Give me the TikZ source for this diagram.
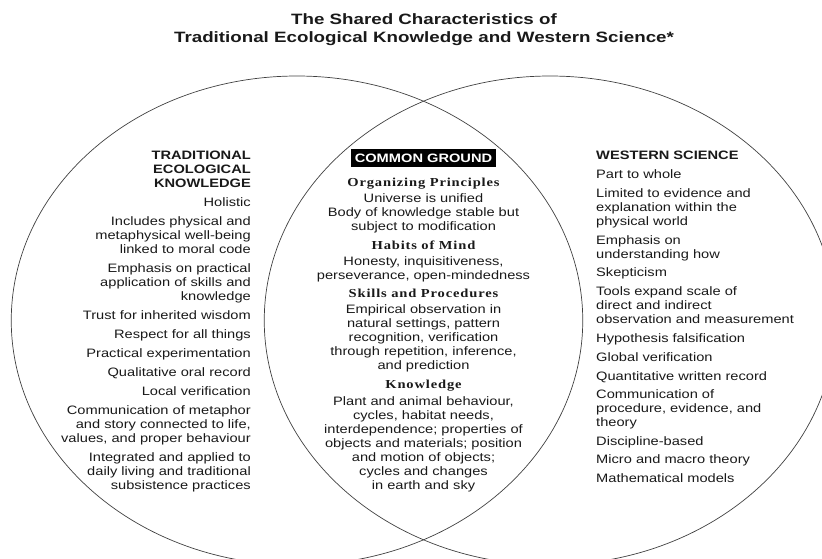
\documentclass[tikz,border=0pt]{standalone}
\usepackage{fontspec}
\setmainfont{Liberation Sans}[FakeStretch=1.2]
\newfontfamily\cgfont{Liberation Serif}[FakeStretch=1.19, LetterSpace=7]
\newfontfamily\titlefont{Liberation Sans}[FakeStretch=1.25]

\newcommand{\cghead}[1]{{\cgfont\bfseries #1}}

\tikzset{
  ring/.style={draw=black!75, line width=0.7pt},
  column/.style={inner sep=0pt, text=black!90, font=\fontsize{12.2}{14}\selectfont},
  cgbox/.style={fill=black, text=white, inner sep=0pt, minimum width=145pt,
    minimum height=18pt, font=\fontsize{12.2}{14}\selectfont\bfseries}
}

\begin{document}
\begin{tikzpicture}[x=1pt, y=-1pt]
        \useasboundingbox (0,0) rectangle (822,558);
        \clip (0,0) rectangle (822,558);

        % Title
        \node[inner sep=0pt, text=black!90, align=center,
              font=\titlefont\fontsize{15}{17.7}\selectfont\bfseries] (title) at (424,29.5)
             {The Shared Characteristics of\\
              Traditional Ecological Knowledge and Western Science*};

        % The two overlapping rings
        \draw[ring] (297,320.5) ellipse (285.75 and 244.5);
        \draw[ring] (550,320.5) ellipse (285.75 and 244.5);

        % Left side
        \node[column, align=right, anchor=north east] (tek) at (251,150.7) {%
          \textbf{TRADITIONAL}\\ \textbf{ECOLOGICAL}\\ \textbf{KNOWLEDGE}\\[4.7pt]
          Holistic\\[5pt]
          Includes physical and\\ metaphysical well-being\\ linked to moral code\\[5pt]
          Emphasis on practical\\ application of skills and\\ knowledge\\[5pt]
          Trust for inherited wisdom\\[5pt]
          Respect for all things\\[5pt]
          Practical experimentation\\[5pt]
          Qualitative oral record\\[5pt]
          Local verification\\[5pt]
          Communication of metaphor\\ and story connected to life,\\ values, and proper behaviour\\[5pt]
          Integrated and applied to\\ daily living and traditional\\ subsistence practices};

        % Middle
        \node[cgbox] (common) at (423.5,158.3) {COMMON GROUND};
        \node[column, align=center, anchor=north] (shared) at (423.5,178.3) {%
          \cghead{Organizing Principles}\\[1.4pt]
          Universe is unified\\ Body of knowledge stable but\\ subject to modification\\[4.7pt]
          \cghead{Habits of Mind}\\[2pt]
          Honesty, inquisitiveness,\\ perseverance, open-mindedness\\[4.6pt]
          \cghead{Skills and Procedures}\\[2pt]
          Empirical observation in\\ natural settings, pattern\\ recognition, verification\\
          through repetition, inference,\\ and prediction\\[4.7pt]
          \cghead{Knowledge}\\[2.7pt]
          Plant and animal behaviour,\\ cycles, habitat needs,\\ interdependence; properties of\\
          objects and materials; position\\ and motion of objects;\\ cycles and changes\\ in earth and sky};

        % Right side
        \node[column, align=left, anchor=north west] (western) at (596,150.7) {%
          \textbf{WESTERN SCIENCE}\\[5pt]
          Part to whole\\[4.7pt]
          Limited to evidence and\\ explanation within the\\ physical world\\[5pt]
          Emphasis on\\ understanding how\\[4.7pt]
          Skepticism\\[4.7pt]
          Tools expand scale of\\ direct and indirect\\ observation and measurement\\[5pt]
          Hypothesis falsification\\[4.7pt]
          Global verification\\[5pt]
          Quantitative written record\\[4.4pt]
          Communication of\\ procedure, evidence, and\\ theory\\[4.7pt]
          Discipline-based\\[4.6pt]
          Micro and macro theory\\[5pt]
          Mathematical models};
\end{tikzpicture}
\end{document}
